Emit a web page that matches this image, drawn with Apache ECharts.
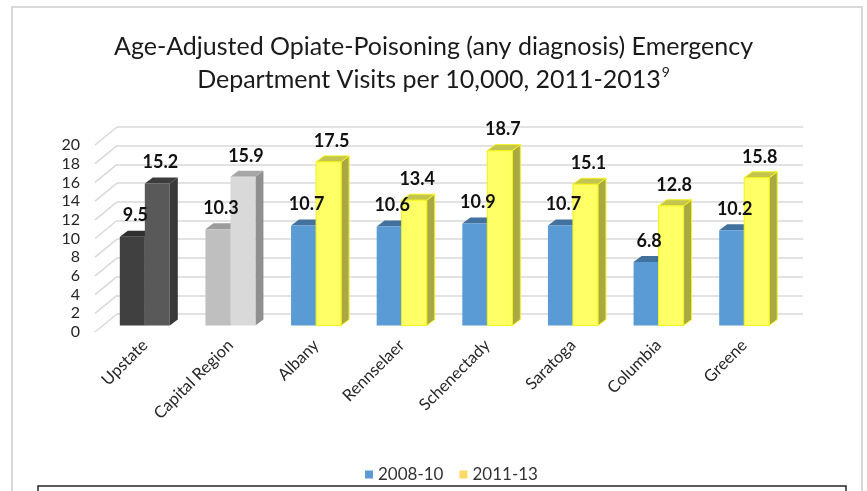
<!DOCTYPE html>
<html>
<head>
<meta charset="utf-8">
<script src="https://cdn.jsdelivr.net/npm/echarts@6/dist/echarts.min.js"></script>
<style>
  html, body { margin: 0; padding: 0; background: #fff; }
  #chart { width: 867px; height: 491px; }
</style>
</head>
<body>
<div id="chart"></div>
<script>
// 图表数据
const regions = ["Upstate", "Capital Region", "Albany", "Rennselaer", "Schenectady", "Saratoga", "Columbia", "Greene"];
const periods = ["2008-10", "2011-13"];
const visits0810 = [9.5, 10.3, 10.7, 10.6, 10.9, 10.7, 6.8, 10.2];
const visits1113 = [15.2, 15.9, 17.5, 13.4, 18.7, 15.1, 12.8, 15.8];
const yTicks = [0, 2, 4, 6, 8, 10, 12, 14, 16, 18, 20];
const titleLines = ["Age-Adjusted Opiate-Poisoning (any diagnosis) Emergency", "Department Visits per 10,000, 2011-2013"];
const footnote = "9";

const font = "Lato";
const depth = [22, -18];   // 墙面深度
const barDepth = [8, -6];  // 柱子厚度
const barRatio = 0.292;

// 颜色: 默认按系列, Upstate / Capital Region 用灰色
const shades = [
  { front: "#5b9bd5", top: "#41719c", side: "#3d6b94", stroke: null },
  { front: "#ffff66", top: "#c4c450", side: "#a8a844", stroke: "#f2f21a" }
];
const grayShades = {
  0: [{ front: "#404040", top: "#2e2e2e", side: "#2b2b2b" }, { front: "#595959", top: "#3c3c3c", side: "#383838" }],
  1: [{ front: "#bfbfbf", top: "#9c9c9c", side: "#8a8a8a" }, { front: "#d9d9d9", top: "#a6a6a6", side: "#8f8f8f" }]
};

function pickShade(cat, s) {
  return grayShades[cat] ? grayShades[cat][s] : shades[s];
}

function barRender(s) {
  return function (params, api) {
    const cat = api.value(0), v = api.value(1);
    const base = api.coord([cat, 0]);
    const top = api.coord([cat, v]);
    const w = api.size([1, 0])[0] * barRatio;
    const x0 = base[0] - w + s * w;
    const sh = pickShade(cat, s);
    const dx = barDepth[0], dy = barDepth[1];
    const stroke = sh.stroke || null;
    return {
      type: "group",
      children: [
        { type: "polygon", z2: s * 10 + 1, shape: { points: [[x0 + w, top[1]], [x0 + w + dx, top[1] + dy], [x0 + w + dx, base[1] + dy], [x0 + w, base[1]]] },
          style: { fill: sh.side, stroke: stroke, lineWidth: 1 } },
        { type: "polygon", z2: s * 10 + 2, shape: { points: [[x0, top[1]], [x0 + dx, top[1] + dy], [x0 + w + dx, top[1] + dy], [x0 + w, top[1]]] },
          style: { fill: sh.top, stroke: stroke, lineWidth: 1 } },
        { type: "rect", z2: s * 10 + 3, shape: { x: x0, y: top[1], width: w, height: base[1] - top[1] },
          style: { fill: sh.front, stroke: stroke, lineWidth: 1 } },
        { type: "text", z2: 100, x: x0 + w / 2 + 3, y: top[1] + dy - 6,
          style: { text: v.toFixed(1), fontFamily: font, fontWeight: "bold", fontSize: 18, fill: "#111",
                   align: "center", verticalAlign: "bottom" } }
      ]
    };
  };
}

const chart = echarts.init(document.getElementById("chart"));
chart.setOption({
  animation: false,
  title: {
    text: "{t|" + titleLines[0] + "}\n{t|" + titleLines[1] + "}{s|" + footnote + "}",
    left: "center",
    top: 25,
    textStyle: {
      fontWeight: "normal",
      rich: {
        t: { fontFamily: font, fontSize: 25, fontWeight: "normal", color: "#1a1a1a", lineHeight: 33 },
        s: { fontFamily: font, fontSize: 14, fontWeight: "normal", color: "#1a1a1a", verticalAlign: "top", lineHeight: 14, padding: [2, 0, 0, 1] }
      }
    }
  },
  legend: {
    data: periods,
    top: 461,
    left: 360,
    itemWidth: 8,
    itemHeight: 8,
    itemGap: 16,
    icon: "rect",
    textStyle: { fontFamily: font, fontSize: 17, color: "#333" }
  },
  graphic: [
    { type: "rect", shape: { x: 12, y: 7, width: 850, height: 500 }, style: { fill: "none", stroke: "#d9d9d9", lineWidth: 2 }, z: -10 },
    { type: "rect", shape: { x: 38, y: 486, width: 808, height: 20 }, style: { fill: "#fff", stroke: "#262626", lineWidth: 1.5 }, z: 10 }
  ],
  grid: [
    { left: 95, right: 87, top: 145, bottom: 159 },   // 前面 (刻度标签)
    { left: 117, right: 64, top: 127, bottom: 177 },  // 后墙 (网格线)
    { left: 102, right: 80, top: 138.5, bottom: 165.5 } // 柱子所在平面
  ],
  xAxis: [
    { gridIndex: 0, type: "value", min: 0, max: 1, show: false },
    { gridIndex: 1, type: "value", min: 0, max: 1, show: false },
    { gridIndex: 2, type: "category", data: regions,
      axisLine: { show: false }, axisTick: { show: false },
      axisLabel: { rotate: 45, margin: 17, interval: 0, fontFamily: font, fontSize: 16.5, color: "#262626" } }
  ],
  yAxis: [
    { gridIndex: 0, type: "value", min: 0, max: 20, interval: 2,
      axisLine: { show: false }, axisTick: { show: false }, splitLine: { show: false },
      axisLabel: { margin: 15, fontFamily: font, fontSize: 16, color: "#262626" } },
    { gridIndex: 1, type: "value", min: 0, max: 20, interval: 2,
      axisLine: { show: false }, axisTick: { show: false }, axisLabel: { show: false },
      splitLine: { show: true, lineStyle: { color: "#d9d9d9", width: 1.5 } } },
    { gridIndex: 2, type: "value", min: 0, max: 20, interval: 2, show: false }
  ],
  series: [
    {
      name: "wall",
      type: "custom",
      xAxisIndex: 0, yAxisIndex: 0,
      silent: true,
      data: yTicks.map(v => [0, v]),
      renderItem: function (params, api) {
        const p = api.coord([0, api.value(1)]);
        return { type: "line", shape: { x1: p[0], y1: p[1], x2: p[0] + depth[0], y2: p[1] + depth[1] },
                 style: { stroke: "#d9d9d9", lineWidth: 1.5 } };
      },
      z: 1
    },
    {
      name: periods[0],
      type: "custom",
      xAxisIndex: 2, yAxisIndex: 2,
      itemStyle: { color: "#5b9bd5" },
      data: visits0810.map((v, i) => [i, v]),
      encode: { x: 0, y: 1 },
      renderItem: barRender(0),
      z: 3
    },
    {
      name: periods[1],
      type: "custom",
      xAxisIndex: 2, yAxisIndex: 2,
      itemStyle: { color: "#ffd966" },
      data: visits1113.map((v, i) => [i, v]),
      encode: { x: 0, y: 1 },
      renderItem: barRender(1),
      z: 3
    }
  ]
});
</script>
</body>
</html>
